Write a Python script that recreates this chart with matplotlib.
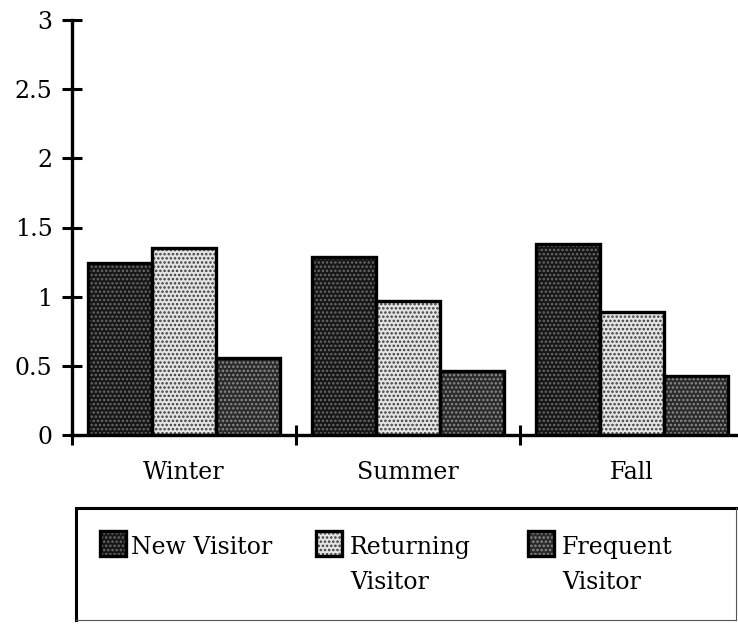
import numpy as np
import matplotlib
matplotlib.use('Agg')
import matplotlib.pyplot as plt
from matplotlib.patches import Rectangle
from matplotlib.lines import Line2D

# ========== 資料 ==========
seasons = ['Winter', 'Summer', 'Fall']
series_names = ['New Visitor', 'Returning\nVisitor', 'Frequent\nVisitor']
new_visitor = [1.24, 1.29, 1.38]
returning_visitor = [1.35, 0.97, 0.89]
frequent_visitor = [0.56, 0.46, 0.43]
y_ticks = [0, 0.5, 1, 1.5, 2, 2.5, 3]
y_tick_labels = ['0', '0.5', '1', '1.5', '2', '2.5', '3']

# ========== 樣式 ==========
W, H = 738, 625
FONT = 'DejaVu Serif'
FS = 17
# (底色, 網點色) 模擬半色調網點
styles = [('#161616', '#6a6a6a'), ('#e4e4e4', '#3c3c3c'), ('#2a2a2a', '#8c8c8c')]
plt.rcParams['hatch.linewidth'] = 1.2
plt.rcParams['font.family'] = [FONT]

fig = plt.figure(figsize=(W / 100, H / 100), dpi=100)
ax = fig.add_axes([72 / W, 190 / H, (W - 72) / W, 415 / H])

x = np.arange(len(seasons))
bw = 0.285
offsets = [-bw, 0, bw]
values = [new_visitor, returning_visitor, frequent_visitor]

for vals, off, (fc, dc) in zip(values, offsets, styles):
    ax.bar(x + off, vals, bw, color=fc, edgecolor=dc, hatch='....', lw=0, zorder=2)
    ax.bar(x + off, vals, bw, fill=False, edgecolor='black', lw=2.4, zorder=3)

ax.set_ylim(0, 3)
ax.set_xlim(-0.5, -0.5 + (W - 72) / 224)
ax.set_yticks(y_ticks)
ax.set_yticklabels(y_tick_labels, fontsize=FS)
ax.set_xticks(x)
ax.set_xticklabels(seasons, fontsize=FS)
ax.set_xticks([-0.5, 0.5, 1.5], minor=True)
ax.tick_params(axis='x', which='major', length=0, pad=19)
ax.tick_params(axis='x', which='minor', direction='inout', length=14, width=2.2)
ax.tick_params(axis='y', direction='inout', length=14, width=2.2, pad=7)
for s in ['top', 'right']:
    ax.spines[s].set_visible(False)
for s in ['left', 'bottom']:
    ax.spines[s].set_linewidth(2.4)
    ax.spines[s].set_zorder(4)
ax.spines['left'].set_bounds(0, 3)

# ========== 圖例框 ==========
def fx(px):
    return px / W

def fy(py):
    return 1 - py / H

box_l, box_t, box_r, box_b = 76, 508, 736, 620
fig.add_artist(Line2D([fx(box_l), fx(box_r)], [fy(box_t), fy(box_t)], color='black', lw=2.2))
fig.add_artist(Line2D([fx(box_l), fx(box_l)], [fy(box_t), fy(box_b)], color='black', lw=2.2))
fig.add_artist(Line2D([fx(box_r), fx(box_r)], [fy(box_t), fy(box_b)], color='#555555', lw=0.8))
fig.add_artist(Line2D([fx(box_l), fx(box_r)], [fy(box_b), fy(box_b)], color='#555555', lw=0.8))

swatch_x = [100, 316, 528]
text_x = [131, 350, 562]
for name, sx, tx, (fc, dc) in zip(series_names, swatch_x, text_x, styles):
    fig.add_artist(Rectangle((fx(sx), fy(556)), 26 / W, 25 / H, facecolor=fc,
                             edgecolor=dc, hatch='....', lw=0))
    fig.add_artist(Rectangle((fx(sx), fy(556)), 26 / W, 25 / H, fill=False,
                             edgecolor='black', lw=2.4))
    for i, line in enumerate(name.split('\n')):
        fig.text(fx(tx), fy(554 + 35 * i), line, fontsize=FS, ha='left', va='baseline')

fig.savefig('out.png', dpi=100)
